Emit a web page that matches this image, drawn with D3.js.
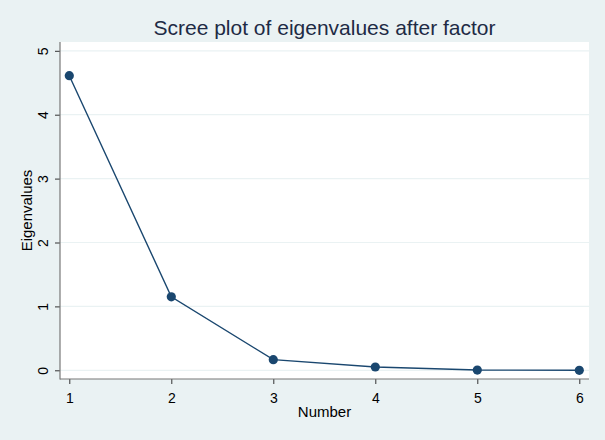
<!DOCTYPE html>
<html><head><meta charset="utf-8">
<script src="https://cdn.jsdelivr.net/npm/d3@7"></script>
<style>body{margin:0;background:#EAF2F3;} svg{display:block;}</style>
</head><body>
<svg id="c" width="605" height="440"></svg>
<script>
const numbers = [1, 2, 3, 4, 5, 6];
const eigenvalues = [4.61, 1.15, 0.167, 0.052, 0.004, 0.0];
const yTicks = [0, 1, 2, 3, 4, 5];
const xTicks = [1, 2, 3, 4, 5, 6];
const titleText = "Scree plot of eigenvalues after factor";
const xTitle = "Number";
const yTitle = "Eigenvalues";

const svg = d3.select("#c");
const W = 605, H = 440;
const font = "'Liberation Sans', Arial, sans-serif";
const navy = "#1a476f";
svg.append("rect").attr("width", W).attr("height", H).attr("fill", "#EAF2F3");

const plot = {left: 60, right: 589, top: 42, bottom: 379};
const x = d3.scaleLinear().domain([1, 6]).range([69.3, 579.3]);
const y = d3.scaleLinear().domain([0, 5]).range([370.3, 50.8]);

svg.append("rect").attr("x", plot.left).attr("y", plot.top)
  .attr("width", plot.right - plot.left).attr("height", plot.bottom - plot.top)
  .attr("fill", "#fff");

// gridlines
svg.append("g").selectAll("line").data(yTicks).join("line")
  .attr("x1", plot.left).attr("x2", plot.right)
  .attr("y1", d => y(d)).attr("y2", d => y(d))
  .attr("stroke", "#EAF2F3").attr("stroke-width", 1.2);

// y axis
const yAxis = svg.append("g").attr("transform", `translate(${plot.left},0)`)
  .call(d3.axisLeft(y).tickValues(yTicks).tickSize(5).tickPadding(4).tickFormat(d3.format("d")));
yAxis.select(".domain").remove();
yAxis.selectAll(".tick line").attr("stroke", "#333");
yAxis.selectAll(".tick text")
  .attr("font-family", font).attr("font-size", 14).attr("fill", "#000")
  .attr("transform", "rotate(-90)")
  .attr("x", 0).attr("y", -12).attr("dy", "0").attr("text-anchor", "middle");
svg.append("line").attr("x1", plot.left).attr("x2", plot.left)
  .attr("y1", plot.top).attr("y2", plot.bottom + 0.5)
  .attr("stroke", "#777").attr("stroke-width", 1.2);

// x axis
const xAxis = svg.append("g").attr("transform", `translate(0,${plot.bottom})`)
  .call(d3.axisBottom(x).tickValues(xTicks).tickSize(5).tickPadding(3).tickFormat(d3.format("d")));
xAxis.select(".domain").remove();
xAxis.selectAll(".tick line").attr("stroke", "#333");
xAxis.selectAll(".tick text")
  .attr("font-family", font).attr("font-size", 14).attr("fill", "#000")
  .attr("y", 24).attr("dy", "0");
svg.append("line").attr("x1", plot.left).attr("x2", plot.right)
  .attr("y1", plot.bottom).attr("y2", plot.bottom)
  .attr("stroke", "#777").attr("stroke-width", 1.2);

// axis titles
svg.append("text").attr("x", (plot.left + plot.right) / 2).attr("y", 417)
  .attr("text-anchor", "middle").attr("font-family", font).attr("font-size", 15)
  .attr("fill", "#000").text(xTitle);
svg.append("text").attr("transform", `translate(32,${(plot.top + plot.bottom) / 2}) rotate(-90)`)
  .attr("text-anchor", "middle").attr("font-family", font).attr("font-size", 15)
  .attr("fill", "#000").text(yTitle);

// title
svg.append("text").attr("x", (plot.left + plot.right) / 2).attr("y", 35)
  .attr("text-anchor", "middle").attr("font-family", font).attr("font-size", 21)
  .attr("fill", "#1e2b45").text(titleText);

// line and points
const data = numbers.map((n, i) => ({n, v: eigenvalues[i]}));
svg.append("path").datum(data)
  .attr("d", d3.line().x(d => x(d.n)).y(d => y(d.v)))
  .attr("fill", "none").attr("stroke", navy).attr("stroke-width", 1.4);
svg.append("g").selectAll("circle").data(data).join("circle")
  .attr("cx", d => x(d.n)).attr("cy", d => y(d.v)).attr("r", 4.6)
  .attr("fill", navy);
</script>
</body></html>
